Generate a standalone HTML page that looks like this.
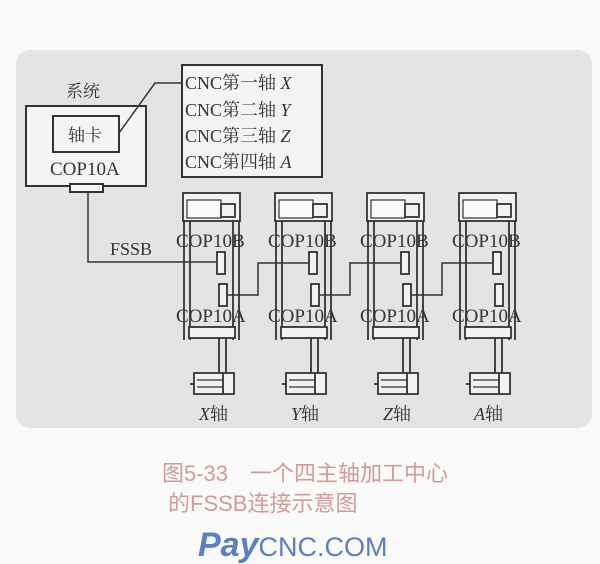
<!DOCTYPE html>
<html><head><meta charset="utf-8"><style>
html,body{margin:0;padding:0;background:#fbfbfb;}
svg{display:block}
text{font-family:"Liberation Serif","Noto Serif CJK SC",serif;fill:#333}
</style></head><body>
<svg width="600" height="564" viewBox="0 0 600 564">
<rect x="0" y="0" width="600" height="564" fill="#fafafa"/>
<rect x="16" y="50" width="576" height="378" rx="14" fill="#e4e4e4"/>
<g stroke="#333" stroke-width="2" fill="none">
<rect x="26" y="106" width="120" height="80" fill="#f4f4f4"/>
<rect x="53" y="116" width="66" height="36" fill="#f4f4f4"/>
<rect x="70" y="184" width="33" height="8" fill="#f4f4f4"/>
<polyline points="119,133 155,83 182,83" stroke-width="1.5"/>
<rect x="182" y="65" width="140" height="112" fill="#f4f4f4"/>
<polyline points="88,192 88,262 218,262" stroke-width="1.5"/>
</g>
<text x="66" y="97" font-size="17">系统</text>
<text x="68" y="141" font-size="17">轴卡</text>
<text x="50" y="175" font-size="19">COP10A</text>
<text x="110" y="255" font-size="18">FSSB</text>
<g font-size="18">
<text x="185" y="89">CNC第一轴 <tspan font-style="italic">X</tspan></text>
<text x="185" y="116">CNC第二轴 <tspan font-style="italic">Y</tspan></text>
<text x="185" y="142">CNC第三轴 <tspan font-style="italic">Z</tspan></text>
<text x="185" y="168">CNC第四轴 <tspan font-style="italic">A</tspan></text>
</g>
<defs>
<g id="drv">
<g stroke="#333" stroke-width="1.8" fill="none">
<rect x="183" y="193" width="57" height="28" fill="#f2f2f2"/>
<rect x="187" y="200" width="34" height="18" fill="#fafafa" stroke-width="1.2"/>
<rect x="221" y="204" width="14" height="13" fill="#f2f2f2"/>
<line x1="184" y1="221" x2="184" y2="340"/>
<line x1="190" y1="221" x2="190" y2="340"/>
<line x1="233" y1="221" x2="233" y2="340"/>
<line x1="239" y1="221" x2="239" y2="340"/>
<rect x="217" y="252" width="8" height="22" fill="#f2f2f2"/>
<rect x="219" y="284" width="8" height="22" fill="#f2f2f2"/>
<rect x="189" y="327" width="46" height="11" fill="#f2f2f2"/>
<line x1="219" y1="338" x2="219" y2="373"/>
<line x1="226" y1="338" x2="226" y2="373"/>
<rect x="194" y="373" width="40" height="21" fill="#f2f2f2"/>
<line x1="223" y1="373" x2="223" y2="394"/>
<line x1="197" y1="380" x2="223" y2="380" stroke-width="1.2"/>
<line x1="197" y1="387" x2="223" y2="387" stroke-width="1.2"/>
<line x1="190" y1="384" x2="194" y2="384"/>
</g>
<text x="176" y="247" font-size="19" fill="#333">COP10B</text>
<text x="176" y="322" font-size="19" fill="#333">COP10A</text>
</g>
</defs>
<use href="#drv"/>
<use href="#drv" x="92"/>
<use href="#drv" x="184"/>
<use href="#drv" x="276"/>
<g stroke="#333" stroke-width="1.5" fill="none">
<polyline points="227,295 258,295 258,263 309,263"/>
<polyline points="319,295 350,295 350,263 401,263"/>
<polyline points="411,295 442,295 442,263 493,263"/>
</g>
<g font-size="18">
<text x="199" y="420"><tspan font-style="italic">X</tspan>轴</text>
<text x="291" y="420"><tspan font-style="italic">Y</tspan>轴</text>
<text x="383" y="420"><tspan font-style="italic">Z</tspan>轴</text>
<text x="474" y="420"><tspan font-style="italic">A</tspan>轴</text>
</g>
<text x="162" y="481" font-size="22" style="fill:#d39a9a;font-family:'Liberation Sans','Noto Sans CJK SC',sans-serif">图5-33　一个四主轴加工中心</text>
<text x="168" y="511" font-size="22" style="fill:#d39a9a;font-family:'Liberation Sans','Noto Sans CJK SC',sans-serif">的FSSB连接示意图</text>
<text x="198" y="556" font-size="34" font-style="italic" font-weight="bold" style="fill:#5a7fc4;font-family:'Liberation Sans',sans-serif">Pay<tspan font-size="27" font-weight="normal" font-style="normal">CNC.COM</tspan></text>
</svg>
</body></html>
